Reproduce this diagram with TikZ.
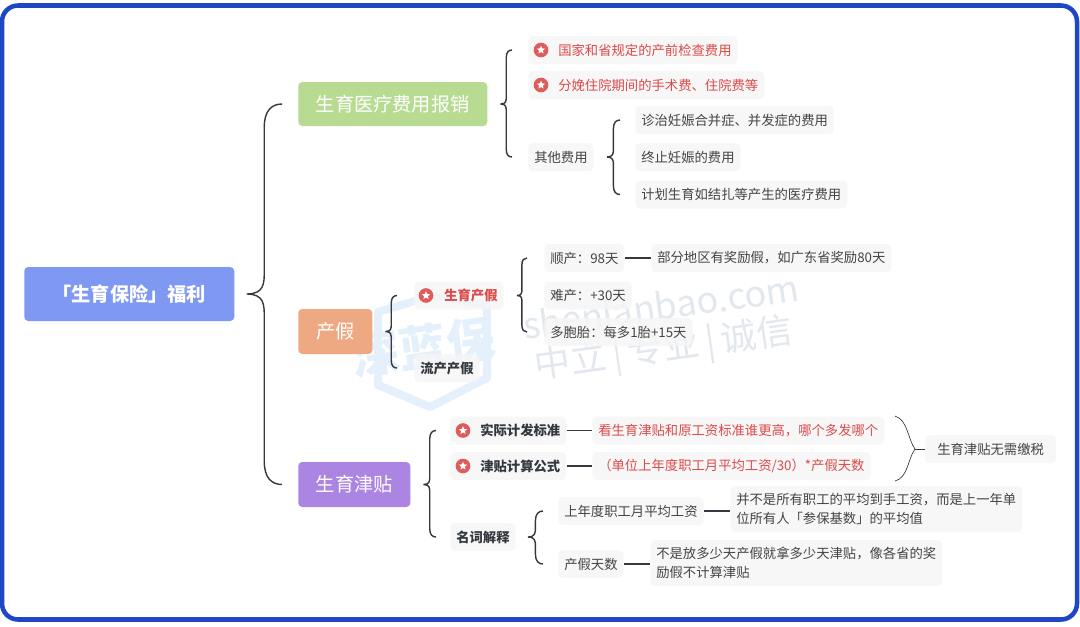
\documentclass[tikz,border=0pt]{standalone}
\usepackage{fontspec}
\setmainfont{Noto Sans CJK SC}
\usepackage{xcolor}
\usetikzlibrary{calc,shapes.geometric}
\definecolor{frameblue}{HTML}{1F46C4}
\definecolor{rootblue}{HTML}{7F98F2}
\definecolor{medgreen}{HTML}{B7DC91}
\definecolor{leaveorange}{HTML}{EFA57C}
\definecolor{allowpurple}{HTML}{AC85E2}
\definecolor{inkgrey}{HTML}{444444}
\definecolor{inkdark}{HTML}{33393F}
\definecolor{inkred}{HTML}{DC4A4A}
\definecolor{leafgrey}{HTML}{F6F6F6}
\definecolor{marklight}{HTML}{E3E7EE}
\definecolor{logolight}{HTML}{E4F0FB}
% brace: parent, top child, bottom child, gap at the parent, gap at the children
\newcommand{\bracelink}[5]{%
  \draw[bracket] let \p1=($(#1.east)+(#4,0)$), \p2=($(#2.west)-(#5,0)$), \p3=($(#3.west)-(#5,0)$),
    \p4=(#2.west), \p5=(#3.west), \n1={0.5*(\x2-\x1)} in
    (\x1,\y1) .. controls (\x1+\n1,\y1) and (\x1+\n1,\y1+0.6*\n1) .. (\x1+\n1,\y1+1.3*\n1)
    -- (\x1+\n1,\y4-1.3*\n1) .. controls (\x1+\n1,\y4-0.4*\n1) and (\x1+1.4*\n1,\y4) .. (\x2,\y4)
    (\x1,\y1) .. controls (\x1+\n1,\y1) and (\x1+\n1,\y1-0.6*\n1) .. (\x1+\n1,\y1-1.3*\n1)
    -- (\x1+\n1,\y5+1.3*\n1) .. controls (\x1+\n1,\y5+0.4*\n1) and (\x1+1.4*\n1,\y5) .. (\x2,\y5);}
\newcommand{\stargap}{\hspace*{18pt}}
\begin{document}
\begin{tikzpicture}[x=0.75pt,y=-0.75pt]
	\tikzset{topic/.style = {shape=rectangle,rounded corners=3pt,text=white,anchor=west,inner sep=0pt,font=\fontsize{14.4}{17}\selectfont}}
	\tikzset{leaf/.style = {shape=rectangle,rounded corners=3.5pt,fill=leafgrey,fill opacity=0.8,text opacity=1,text=inkgrey,anchor=west,inner xsep=4.5pt,inner ysep=0pt,minimum height=21pt,font=\fontsize{10}{14}\selectfont}}
	\tikzset{keyleaf/.style = {leaf,text=inkdark,font=\fontsize{10}{14}\selectfont\bfseries}}
	\tikzset{redleaf/.style = {leaf,text=inkred}}
	\tikzset{starmark/.style = {shape=circle,fill=inkred!90!white,minimum size=11pt,inner sep=0pt,
		path picture={\node[star,star points=5,star point ratio=2.2,fill=white,minimum size=6.5pt,inner sep=0pt] at (path picture bounding box.center) {};}}}
	\tikzset{bracket/.style = {draw=inkdark,line width=1.05pt}}
	\tikzset{edge/.style = {draw=inkdark,line width=1.1pt}}
	\useasboundingbox (0,0) rectangle (1080,626);
	\draw[frameblue,line width=3.4pt,fill=white,rounded corners=12pt] (2,5.5) rectangle (1077,619.5);
	% watermark
	\node[rotate=8,text=marklight,font=\fontsize{27}{30}\selectfont] (site) at (661,306) {shenlanbao.com};
	\node[rotate=8,text=marklight,font=\fontsize{27}{30}\selectfont] (motto) at (664,350) {中立\,|\,专业\,|\,诚信};
	\draw[logolight,line width=6pt,line join=round] (378,312) -- (432,296) -- (487,305) -- (487,378) -- (430,407) -- (378,385) -- cycle;
	\node[rotate=8,text=logolight,font=\fontsize{36}{38}\selectfont\bfseries] (logo) at (423,347) {深蓝保};
	% main topics
	\node[topic,fill=rootblue,minimum width=157.5pt,minimum height=40.5pt,font=\fontsize{14.4}{17}\selectfont\bfseries] (root) at (24,294) {「生育保险」福利};
	\node[topic,fill=medgreen,minimum width=141.75pt,minimum height=33pt] (med) at (298,104) {生育医疗费用报销};
	\node[topic,fill=leaveorange,fill opacity=0.95,text opacity=1,minimum width=55.5pt,minimum height=33.75pt] (leave) at (298,331.5) {产假};
	\node[topic,fill=allowpurple,minimum width=84pt,minimum height=33.75pt] (allow) at (298,484.5) {生育津贴};
	% medical costs
	\node[redleaf] (prenatal) at (528,50) {\stargap 国家和省规定的产前检查费用};
	\node[starmark] (prenatalstar) at (541,50) {};
	\node[redleaf] (birth) at (528,85) {\stargap 分娩住院期间的手术费、住院费等};
	\node[starmark] (birthstar) at (541,85) {};
	\node[leaf] (other) at (528,157) {其他费用};
	\node[leaf] (treat) at (635,120) {诊治妊娠合并症、并发症的费用};
	\node[leaf] (stop) at (635,157) {终止妊娠的费用};
	\node[leaf] (plan) at (635,194.5) {计划生育如结扎等产生的医疗费用};
	% leave
	\node[redleaf,font=\fontsize{10}{14}\selectfont\bfseries] (matern) at (414,295.5) {\stargap 生育产假};
	\node[starmark] (maternstar) at (426,295.5) {};
	\node[keyleaf] (miscarry) at (414,368) {流产产假};
	\node[leaf] (normal) at (544,258) {顺产：98天};
	\node[leaf] (region) at (651,258) {部分地区有奖励假，如广东省奖励80天};
	\node[leaf] (hard) at (544,295.5) {难产：+30天};
	\node[leaf] (multi) at (544,332) {多胞胎：每多1胎+15天};
	% allowance
	\node[keyleaf] (actual) at (450,430.5) {\stargap 实际计发标准};
	\node[starmark] (actualstar) at (463,430.5) {};
	\node[keyleaf] (formula) at (450,466) {\stargap 津贴计算公式};
	\node[starmark] (formulastar) at (463,466) {};
	\node[keyleaf] (terms) at (450,537) {名词解释};
	\node[redleaf] (higher) at (592,430.5) {看生育津贴和原工资标准谁更高，哪个多发哪个};
	\node[redleaf] (calc) at (592,466) {（单位上年度职工月平均工资/30）*产假天数};
	\node[leaf] (notax) at (925,449) {\hspace*{4.5pt}生育津贴无需缴税\hspace*{4.5pt}};
	\coordinate (notaxtip) at (915,449);
	\node[leaf] (wage) at (558,511) {上年度职工月平均工资};
	\node[leaf] (days) at (558,564) {产假天数};
	\node[leaf,align=left,minimum height=34.5pt] (wagenote) at (730,509) {并不是所有职工的平均到手工资，而是上一年单\\位所有人「参保基数」的平均值};
	\node[leaf,align=left,minimum height=34.5pt] (daysnote) at (650,563) {不是放多少天产假就拿多少天津贴，像各省的奖\\励假不计算津贴};
	%edges
	\bracelink{root}{med}{allow}{9pt}{12pt}
	\bracelink{med}{prenatal}{other}{9.75pt}{12pt}
	\bracelink{other}{treat}{plan}{9.75pt}{11.25pt}
	\bracelink{leave}{matern}{miscarry}{9.75pt}{12.75pt}
	\bracelink{matern}{normal}{multi}{9.75pt}{12.75pt}
	\bracelink{allow}{actual}{terms}{9.75pt}{10.5pt}
	\bracelink{terms}{wage}{days}{9pt}{11.25pt}
	\draw[edge] (normal) -- (region);
	\draw[edge] (actual) -- (higher);
	\draw[edge] (formula) -- (calc);
	\draw[edge] (wage) -- (wagenote.west |- wage);
	\draw[edge] (days) -- (daysnote.west |- days);
	\draw[draw=inkdark,line width=0.5pt] (895,416) .. controls (908,420) and (908,440) .. (notaxtip) .. controls (908,458) and (908,478) .. (895,481);
	\draw[draw=inkdark,line width=0.5pt] (notaxtip) -- (notax);
\end{tikzpicture}
\end{document}
